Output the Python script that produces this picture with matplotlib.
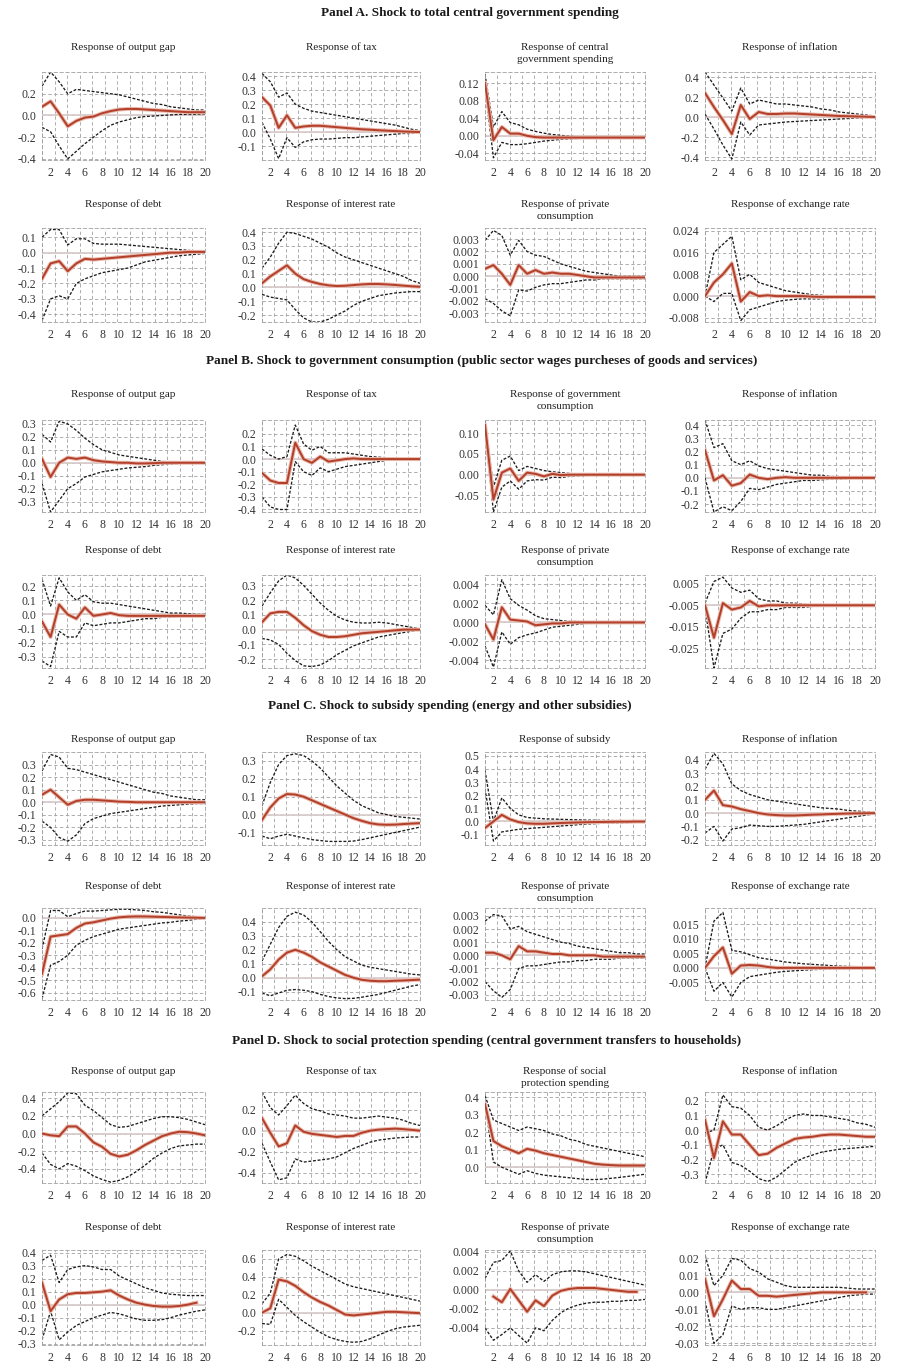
import numpy as np
import matplotlib
matplotlib.use("Agg")
import matplotlib.pyplot as plt

nan = np.nan

# ---------------- data (periods 1..20) ----------------
periods = list(range(1, 21))
xtick_labels = [2, 4, 6, 8, 10, 12, 14, 16, 18, 20]

# Panel A
a_outgap = [0.08, 0.13, 0.02, -0.10, -0.05, -0.02, -0.01, 0.02, 0.04, 0.055, 0.06, 0.06, 0.055, 0.05, 0.045, 0.04, 0.035, 0.03, 0.03, 0.03]
a_outgap_hi = [0.27, 0.40, 0.31, 0.20, 0.24, 0.23, 0.22, 0.21, 0.20, 0.19, 0.17, 0.15, 0.13, 0.11, 0.10, 0.08, 0.07, 0.06, 0.05, 0.05]
a_outgap_lo = [-0.11, -0.15, -0.28, -0.40, -0.33, -0.26, -0.20, -0.14, -0.09, -0.06, -0.04, -0.02, -0.01, -0.005, 0.0, 0.005, 0.01, 0.01, 0.01, 0.015]
a_tax = [0.25, 0.19, 0.03, 0.12, 0.03, 0.04, 0.045, 0.045, 0.04, 0.035, 0.03, 0.025, 0.02, 0.017, 0.013, 0.01, 0.007, 0.004, 0.002, 0.0]
a_tax_hi = [0.42, 0.36, 0.25, 0.28, 0.20, 0.17, 0.15, 0.14, 0.13, 0.12, 0.11, 0.10, 0.09, 0.08, 0.07, 0.06, 0.05, 0.035, 0.02, 0.01]
a_tax_lo = [0.07, -0.05, -0.19, -0.04, -0.11, -0.07, -0.055, -0.05, -0.05, -0.045, -0.04, -0.04, -0.035, -0.03, -0.025, -0.02, -0.015, -0.01, -0.01, -0.005]
a_spend = [0.12, -0.01, 0.02, 0.005, 0.005, 0.0, -0.003, -0.004, -0.004, -0.004, -0.004, -0.004, -0.004, -0.004, -0.004, -0.004, -0.004, -0.004, -0.004, -0.004]
a_spend_hi = [0.14, 0.02, 0.055, 0.03, 0.025, 0.015, 0.01, 0.006, 0.003, 0.001, -0.001, -0.002, -0.002, -0.003, -0.003, -0.003, -0.003, -0.003, -0.003, -0.003]
a_spend_lo = [0.11, -0.05, -0.015, -0.02, -0.02, -0.018, -0.015, -0.012, -0.01, -0.008, -0.007, -0.006, -0.005, -0.005, -0.005, -0.005, -0.005, -0.005, -0.005, -0.005]
a_infl = [0.24, 0.10, -0.03, -0.17, 0.12, -0.02, 0.05, 0.03, 0.03, 0.035, 0.035, 0.03, 0.025, 0.02, 0.015, 0.01, 0.008, 0.005, 0.003, 0.0]
a_infl_hi = [0.45, 0.32, 0.19, 0.06, 0.29, 0.13, 0.17, 0.15, 0.13, 0.13, 0.12, 0.11, 0.10, 0.08, 0.07, 0.05, 0.04, 0.03, 0.02, 0.01]
a_infl_lo = [0.03, -0.12, -0.28, -0.42, -0.05, -0.18, -0.08, -0.07, -0.06, -0.05, -0.045, -0.04, -0.035, -0.03, -0.025, -0.02, -0.015, -0.01, -0.005, 0.0]
a_debt = [-0.17, -0.07, -0.055, -0.12, -0.07, -0.04, -0.045, -0.04, -0.035, -0.03, -0.025, -0.02, -0.015, -0.01, -0.005, 0.0, 0.0, 0.005, 0.005, 0.005]
a_debt_hi = [0.10, 0.15, 0.15, 0.05, 0.09, 0.09, 0.06, 0.055, 0.055, 0.055, 0.05, 0.045, 0.04, 0.035, 0.03, 0.025, 0.02, 0.015, 0.01, 0.01]
a_debt_lo = [-0.44, -0.30, -0.28, -0.30, -0.20, -0.17, -0.15, -0.13, -0.12, -0.11, -0.10, -0.08, -0.06, -0.05, -0.04, -0.03, -0.02, -0.015, -0.01, -0.005]
a_rate = [0.03, 0.08, 0.12, 0.16, 0.10, 0.06, 0.04, 0.025, 0.015, 0.01, 0.012, 0.017, 0.022, 0.025, 0.025, 0.022, 0.018, 0.013, 0.008, 0.005]
a_rate_hi = [0.14, 0.22, 0.32, 0.40, 0.39, 0.37, 0.35, 0.32, 0.29, 0.25, 0.22, 0.20, 0.18, 0.16, 0.14, 0.12, 0.10, 0.08, 0.05, 0.03]
a_rate_lo = [-0.05, -0.07, -0.08, -0.09, -0.16, -0.22, -0.25, -0.25, -0.23, -0.20, -0.17, -0.13, -0.10, -0.08, -0.06, -0.05, -0.04, -0.035, -0.03, -0.03]
a_cons = [0.0006, 0.0009, 0.0002, -0.0007, 0.0009, 0.0002, 0.0005, 0.0002, 0.0003, 0.0002, 0.0002, 0.0001, 0.0, -0.0001, -0.0001, -0.0001, -0.0001, -0.0001, -0.0001, -0.0001]
a_cons_hi = [0.0029, 0.0037, 0.0033, 0.0017, 0.0029, 0.0020, 0.0017, 0.0016, 0.0013, 0.0010, 0.0008, 0.0006, 0.0004, 0.0003, 0.0002, 0.0001, 0.0, 0.0, 0.0, 0.0]
a_cons_lo = [-0.0018, -0.0022, -0.0028, -0.0032, -0.0011, -0.0012, -0.0009, -0.0007, -0.0006, -0.0006, -0.0005, -0.0004, -0.0003, -0.0003, -0.0002, -0.0002, -0.0002, -0.0002, -0.0002, -0.0002]
a_fx = [0.0, 0.005, 0.008, 0.012, -0.002, 0.0015, 0.0, 0.0003, 0.0, 0.0, 0.0, 0.0, -0.0002, -0.0003, -0.0003, -0.0003, -0.0003, -0.0003, -0.0003, -0.0003]
a_fx_hi = [0.0, 0.016, 0.019, 0.022, 0.006, 0.008, 0.005, 0.004, 0.003, 0.002, 0.0015, 0.001, 0.0005, 0.0003, 0.0, 0.0, 0.0, 0.0, 0.0, 0.0]
a_fx_lo = [0.0, -0.002, 0.001, 0.001, -0.009, -0.005, -0.004, -0.003, -0.002, -0.0015, -0.0012, -0.001, -0.001, -0.001, -0.0008, -0.0006, -0.0006, -0.0006, -0.0006, -0.0006]

# Panel B
b_outgap = [0.03, -0.11, 0.0, 0.04, 0.03, 0.04, 0.02, 0.01, 0.005, 0.0, 0.0, -0.005, -0.005, -0.003, 0.0, 0.0, 0.0, 0.0, 0.0, 0.0]
b_outgap_hi = [0.22, 0.16, 0.32, 0.30, 0.25, 0.19, 0.14, 0.10, 0.08, 0.06, 0.05, 0.04, 0.03, 0.02, 0.01, 0.005, 0.0, 0.0, 0.0, 0.0]
b_outgap_lo = [-0.16, -0.38, -0.29, -0.20, -0.16, -0.11, -0.09, -0.07, -0.06, -0.05, -0.04, -0.035, -0.03, -0.02, -0.015, -0.01, -0.005, 0.0, 0.0, 0.0]
b_tax = [-0.11, -0.17, -0.19, -0.19, 0.13, 0.0, -0.03, 0.02, -0.02, -0.01, 0.0, 0.005, 0.0, 0.0, 0.0, 0.0, 0.0, 0.0, 0.0, 0.0]
b_tax_hi = [0.08, 0.03, 0.0, 0.02, 0.27, 0.12, 0.07, 0.10, 0.05, 0.05, 0.05, 0.04, 0.03, 0.02, 0.015, 0.01, 0.005, 0.0, 0.0, 0.0]
b_tax_lo = [-0.30, -0.38, -0.40, -0.40, -0.02, -0.10, -0.13, -0.07, -0.10, -0.08, -0.06, -0.05, -0.04, -0.03, -0.02, -0.01, -0.005, 0.0, 0.0, 0.0]
b_gcons = [0.12, -0.06, 0.005, 0.015, -0.015, 0.005, 0.002, -0.004, 0.002, -0.001, 0.0, 0.0, 0.0, 0.0, 0.0, 0.0, 0.0, 0.0, 0.0, 0.0]
b_gcons_hi = [0.13, -0.03, 0.035, 0.045, 0.01, 0.02, 0.015, 0.01, 0.007, 0.005, 0.003, 0.002, 0.001, 0.0, 0.0, 0.0, 0.0, 0.0, 0.0, 0.0]
b_gcons_lo = [0.11, -0.09, -0.03, -0.015, -0.035, -0.015, -0.012, -0.013, -0.006, -0.007, -0.004, -0.003, -0.002, -0.001, 0.0, 0.0, 0.0, 0.0, 0.0, 0.0]
b_infl = [0.21, -0.02, 0.02, -0.06, -0.04, 0.025, 0.0, -0.01, 0.0, 0.005, 0.0, 0.0, 0.0, 0.0, 0.0, 0.0, 0.0, 0.0, 0.0, 0.0]
b_infl_hi = [0.44, 0.23, 0.26, 0.13, 0.10, 0.13, 0.09, 0.07, 0.06, 0.05, 0.04, 0.03, 0.02, 0.02, 0.01, 0.01, 0.005, 0.0, 0.0, 0.0]
b_infl_lo = [0.0, -0.26, -0.22, -0.25, -0.18, -0.08, -0.09, -0.07, -0.05, -0.04, -0.03, -0.02, -0.02, -0.015, -0.01, -0.01, -0.005, 0.0, 0.0, 0.0]
b_debt = [-0.05, -0.16, 0.07, 0.0, -0.03, 0.05, -0.01, 0.0, 0.01, -0.005, -0.01, -0.01, -0.01, -0.01, -0.01, -0.01, -0.01, -0.01, -0.01, -0.01]
b_debt_hi = [0.25, 0.06, 0.26, 0.16, 0.10, 0.14, 0.09, 0.08, 0.08, 0.07, 0.06, 0.05, 0.04, 0.03, 0.02, 0.01, 0.01, 0.005, 0.0, 0.0]
b_debt_lo = [-0.33, -0.37, -0.12, -0.16, -0.16, -0.06, -0.08, -0.07, -0.06, -0.06, -0.05, -0.04, -0.03, -0.03, -0.02, -0.02, -0.015, -0.01, -0.01, -0.01]
b_rate = [0.05, 0.11, 0.12, 0.12, 0.08, 0.03, -0.01, -0.035, -0.05, -0.05, -0.045, -0.035, -0.025, -0.02, -0.015, -0.01, -0.005, 0.0, 0.0, 0.0]
b_rate_hi = [0.16, 0.25, 0.33, 0.37, 0.35, 0.30, 0.24, 0.18, 0.13, 0.09, 0.065, 0.05, 0.045, 0.045, 0.05, 0.045, 0.035, 0.025, 0.015, 0.005]
b_rate_lo = [-0.06, -0.07, -0.10, -0.16, -0.21, -0.245, -0.25, -0.24, -0.21, -0.17, -0.14, -0.11, -0.09, -0.07, -0.05, -0.04, -0.03, -0.02, -0.01, 0.0]
b_cons = [-0.0002, -0.0018, 0.0016, 0.0003, 0.0002, 0.0001, -0.0003, -0.0002, -0.0001, -0.0001, 0.0, 0.0, 0.0, 0.0, 0.0, 0.0, 0.0, 0.0, 0.0, 0.0]
b_cons_hi = [0.0018, 0.0008, 0.0045, 0.0025, 0.0018, 0.0013, 0.0007, 0.0004, 0.0003, 0.0002, 0.0001, 0.0001, 0.0, 0.0, 0.0, 0.0, 0.0, 0.0, 0.0, 0.0]
b_cons_lo = [-0.0025, -0.0047, -0.0010, -0.0023, -0.0016, -0.0013, -0.0011, -0.0008, -0.0005, -0.0004, -0.0003, -0.0002, -0.0001, -0.0001, 0.0, 0.0, 0.0, 0.0, 0.0, 0.0]
b_fx = [-0.005, -0.020, -0.004, -0.007, -0.006, -0.003, -0.0055, -0.005, -0.005, -0.005, -0.005, -0.005, -0.005, -0.005, -0.005, -0.005, -0.005, -0.005, -0.005, -0.005]
b_fx_hi = [-0.004, 0.006, 0.008, 0.003, 0.001, 0.002, -0.002, -0.003, -0.003, -0.004, -0.004, -0.0045, -0.005, -0.005, -0.005, -0.005, -0.005, -0.005, -0.005, -0.005]
b_fx_lo = [-0.006, -0.034, -0.018, -0.016, -0.011, -0.008, -0.008, -0.007, -0.007, -0.006, -0.006, -0.006, -0.0055, -0.005, -0.005, -0.005, -0.005, -0.005, -0.005, -0.005]

# Panel C
c_outgap = [0.06, 0.10, 0.04, -0.02, 0.01, 0.02, 0.02, 0.015, 0.01, 0.005, 0.003, 0.0, 0.0, 0.0, 0.0, 0.0, 0.0, 0.0, 0.0, 0.0]
c_outgap_hi = [0.25, 0.38, 0.36, 0.27, 0.26, 0.24, 0.22, 0.20, 0.18, 0.16, 0.14, 0.12, 0.10, 0.08, 0.07, 0.05, 0.04, 0.03, 0.02, 0.02]
c_outgap_lo = [-0.15, -0.20, -0.28, -0.31, -0.26, -0.17, -0.13, -0.11, -0.09, -0.08, -0.07, -0.06, -0.05, -0.04, -0.03, -0.025, -0.02, -0.015, -0.01, -0.01]
c_tax = [-0.03, 0.04, 0.09, 0.115, 0.112, 0.10, 0.08, 0.06, 0.04, 0.02, 0.0, -0.02, -0.035, -0.048, -0.055, -0.057, -0.056, -0.053, -0.05, -0.048]
c_tax_hi = [0.05, 0.18, 0.28, 0.33, 0.34, 0.33, 0.30, 0.26, 0.21, 0.16, 0.12, 0.08, 0.05, 0.03, 0.01, 0.0, -0.01, -0.015, -0.02, -0.025]
c_tax_lo = [-0.12, -0.135, -0.12, -0.11, -0.12, -0.13, -0.14, -0.145, -0.15, -0.15, -0.15, -0.148, -0.14, -0.13, -0.12, -0.11, -0.10, -0.09, -0.08, -0.07]
c_subs = [-0.05, 0.0, 0.05, 0.015, -0.005, -0.015, -0.018, -0.018, -0.015, -0.012, -0.01, -0.008, -0.006, -0.005, -0.004, -0.003, -0.002, -0.002, -0.001, -0.001]
c_subs_hi = [0.39, 0.0, 0.18, 0.10, 0.05, 0.03, 0.025, 0.02, 0.018, 0.016, 0.014, 0.012, 0.01, 0.009, 0.008, 0.007, 0.006, 0.005, 0.005, 0.005]
c_subs_lo = [0.25, -0.15, -0.08, -0.07, -0.06, -0.055, -0.05, -0.045, -0.04, -0.035, -0.03, -0.025, -0.02, -0.017, -0.014, -0.012, -0.01, -0.008, -0.006, -0.005]
c_infl = [0.10, 0.17, 0.06, 0.05, 0.03, 0.015, 0.0, -0.01, -0.015, -0.018, -0.018, -0.015, -0.012, -0.01, -0.007, -0.005, -0.003, -0.002, -0.001, 0.0]
c_infl_hi = [0.33, 0.45, 0.37, 0.22, 0.17, 0.14, 0.12, 0.10, 0.09, 0.08, 0.07, 0.06, 0.05, 0.04, 0.035, 0.03, 0.02, 0.015, 0.01, 0.005]
c_infl_lo = [-0.15, -0.10, -0.21, -0.12, -0.11, -0.09, -0.095, -0.10, -0.10, -0.095, -0.09, -0.085, -0.075, -0.065, -0.055, -0.045, -0.035, -0.025, -0.015, -0.005]
c_debt = [-0.45, -0.15, -0.14, -0.13, -0.08, -0.045, -0.035, -0.02, -0.005, 0.005, 0.01, 0.012, 0.012, 0.01, 0.008, 0.006, 0.004, 0.003, 0.002, 0.0]
c_debt_hi = [-0.25, 0.06, 0.06, 0.01, 0.035, 0.055, 0.055, 0.06, 0.065, 0.07, 0.07, 0.065, 0.06, 0.05, 0.045, 0.035, 0.025, 0.015, 0.01, 0.005]
c_debt_lo = [-0.65, -0.38, -0.35, -0.30, -0.22, -0.18, -0.15, -0.13, -0.11, -0.09, -0.08, -0.07, -0.06, -0.05, -0.04, -0.035, -0.025, -0.02, -0.01, -0.005]
c_rate = [0.01, 0.06, 0.13, 0.18, 0.20, 0.18, 0.15, 0.11, 0.08, 0.05, 0.02, 0.0, -0.015, -0.022, -0.025, -0.025, -0.022, -0.02, -0.017, -0.014]
c_rate_hi = [0.12, 0.24, 0.36, 0.44, 0.47, 0.45, 0.40, 0.33, 0.26, 0.20, 0.15, 0.12, 0.09, 0.075, 0.065, 0.055, 0.045, 0.035, 0.025, 0.02]
c_rate_lo = [-0.11, -0.13, -0.11, -0.09, -0.085, -0.09, -0.10, -0.12, -0.135, -0.145, -0.15, -0.148, -0.14, -0.13, -0.12, -0.105, -0.09, -0.075, -0.06, -0.05]
c_cons = [0.0002, 0.0002, 0.0, -0.0003, 0.0007, 0.0003, 0.0003, 0.0002, 0.0001, 0.0001, 0.0, 0.0, 0.0, 0.0, -0.0001, -0.0001, -0.0001, -0.0001, -0.0001, -0.0001]
c_cons_hi = [0.0026, 0.0031, 0.0030, 0.0020, 0.0022, 0.0018, 0.0016, 0.0014, 0.0012, 0.0010, 0.0009, 0.0007, 0.0006, 0.0005, 0.0004, 0.0003, 0.0002, 0.0002, 0.0001, 0.0001]
c_cons_lo = [-0.0020, -0.0027, -0.0032, -0.0026, -0.0010, -0.0008, -0.0008, -0.0007, -0.0006, -0.0005, -0.0005, -0.0004, -0.0004, -0.0003, -0.0003, -0.0003, -0.0002, -0.0002, -0.0002, -0.0002]
c_fx = [0.0, 0.004, 0.007, -0.002, 0.0008, 0.001, 0.0008, 0.0003, 0.0, 0.0, 0.0, 0.0, 0.0, 0.0, 0.0, 0.0, 0.0, 0.0, 0.0, 0.0]
c_fx_hi = [0.0, 0.016, 0.019, 0.006, 0.0055, 0.0045, 0.0035, 0.003, 0.0025, 0.002, 0.0017, 0.0014, 0.0012, 0.001, 0.0008, 0.0006, 0.0005, 0.0004, 0.0003, 0.0002]
c_fx_lo = [0.0, -0.008, -0.005, -0.010, -0.005, -0.003, -0.0025, -0.002, -0.0015, -0.0012, -0.001, -0.0008, -0.0006, -0.0005, -0.0004, -0.0003, -0.0003, -0.0002, -0.0002, -0.0002]

# Panel D
d_outgap = [0.0, -0.02, -0.03, 0.08, 0.08, 0.0, -0.10, -0.15, -0.23, -0.26, -0.24, -0.19, -0.13, -0.08, -0.03, 0.0, 0.02, 0.015, 0.0, -0.02]
d_outgap_hi = [0.20, 0.28, 0.36, 0.46, 0.45, 0.32, 0.26, 0.18, 0.10, 0.07, 0.08, 0.11, 0.14, 0.17, 0.19, 0.19, 0.18, 0.16, 0.13, 0.10]
d_outgap_lo = [-0.22, -0.35, -0.40, -0.34, -0.37, -0.42, -0.48, -0.52, -0.55, -0.53, -0.49, -0.43, -0.36, -0.28, -0.22, -0.17, -0.14, -0.13, -0.12, -0.12]
d_tax = [0.12, -0.02, -0.15, -0.12, 0.05, -0.01, -0.03, -0.04, -0.05, -0.06, -0.05, -0.05, -0.02, 0.0, 0.01, 0.015, 0.02, 0.015, 0.008, 0.0]
d_tax_hi = [0.37, 0.22, 0.15, 0.24, 0.34, 0.26, 0.21, 0.19, 0.16, 0.15, 0.14, 0.12, 0.12, 0.13, 0.14, 0.13, 0.12, 0.10, 0.07, 0.05]
d_tax_lo = [-0.12, -0.30, -0.47, -0.45, -0.27, -0.30, -0.29, -0.28, -0.27, -0.25, -0.21, -0.17, -0.14, -0.11, -0.09, -0.08, -0.07, -0.065, -0.06, -0.06]
d_social = [0.36, 0.15, 0.12, 0.10, 0.08, 0.105, 0.095, 0.08, 0.07, 0.06, 0.05, 0.04, 0.03, 0.02, 0.015, 0.012, 0.01, 0.01, 0.01, 0.01]
d_social_hi = [0.41, 0.27, 0.25, 0.23, 0.21, 0.23, 0.22, 0.21, 0.19, 0.18, 0.16, 0.15, 0.13, 0.12, 0.11, 0.10, 0.09, 0.08, 0.07, 0.06]
d_social_lo = [0.37, 0.03, 0.0, -0.02, -0.04, -0.02, -0.035, -0.045, -0.05, -0.055, -0.06, -0.065, -0.07, -0.07, -0.068, -0.063, -0.058, -0.052, -0.046, -0.04]
d_infl = [0.07, -0.19, 0.06, -0.03, -0.03, -0.10, -0.17, -0.16, -0.12, -0.09, -0.06, -0.05, -0.045, -0.035, -0.03, -0.03, -0.035, -0.04, -0.045, -0.045]
d_infl_hi = [-0.02, 0.0, 0.24, 0.16, 0.15, 0.10, 0.02, 0.0, 0.03, 0.07, 0.10, 0.11, 0.10, 0.10, 0.09, 0.08, 0.07, 0.05, 0.04, 0.02]
d_infl_lo = [-0.36, -0.13, -0.10, -0.22, -0.24, -0.28, -0.33, -0.35, -0.32, -0.27, -0.22, -0.19, -0.17, -0.15, -0.14, -0.13, -0.125, -0.12, -0.115, -0.11]
d_debt = [0.17, -0.05, 0.04, 0.08, 0.09, 0.09, 0.095, 0.10, 0.11, 0.07, 0.04, 0.015, 0.0, -0.01, -0.015, -0.015, -0.01, 0.0, 0.015, nan]
d_debt_hi = [0.34, 0.38, 0.17, 0.27, 0.29, 0.30, 0.29, 0.27, 0.27, 0.22, 0.19, 0.16, 0.13, 0.11, 0.09, 0.08, 0.075, 0.07, 0.07, 0.07]
d_debt_lo = [-0.27, -0.05, -0.27, -0.21, -0.16, -0.13, -0.10, -0.08, -0.06, -0.07, -0.09, -0.11, -0.12, -0.12, -0.115, -0.10, -0.08, -0.065, -0.05, -0.04]
d_rate = [0.0, 0.05, 0.37, 0.35, 0.30, 0.23, 0.17, 0.12, 0.08, 0.03, -0.02, -0.03, -0.02, -0.01, 0.0, 0.01, 0.01, 0.005, 0.0, -0.005]
d_rate_hi = [0.10, 0.22, 0.60, 0.65, 0.63, 0.58, 0.52, 0.47, 0.42, 0.37, 0.32, 0.29, 0.27, 0.25, 0.23, 0.21, 0.19, 0.17, 0.15, 0.13]
d_rate_lo = [-0.12, -0.13, 0.15, 0.06, -0.03, -0.10, -0.16, -0.22, -0.27, -0.30, -0.32, -0.33, -0.32, -0.29, -0.25, -0.21, -0.18, -0.16, -0.15, -0.14]
d_cons = [nan, -0.0007, -0.0013, 0.0001, -0.0011, -0.0023, -0.0011, -0.0017, -0.0006, -0.0001, 0.0001, 0.0002, 0.0002, 0.0002, 0.0001, 0.0, -0.0001, -0.0002, -0.0002, nan]
d_cons_hi = [0.0012, 0.0029, 0.0031, 0.0041, 0.0020, 0.0008, 0.0016, 0.0009, 0.0016, 0.0019, 0.0020, 0.0020, 0.0019, 0.0017, 0.0015, 0.0013, 0.0011, 0.0009, 0.0007, 0.0005]
d_cons_lo = [-0.0040, -0.0053, -0.0047, -0.0040, -0.0048, -0.0056, -0.0040, -0.0043, -0.0032, -0.0024, -0.0019, -0.0016, -0.0014, -0.0013, -0.0013, -0.0012, -0.0012, -0.0011, -0.0011, -0.0010]
d_fx = [0.008, -0.014, -0.004, 0.007, 0.002, 0.002, -0.002, -0.002, -0.0025, -0.002, -0.0015, -0.001, -0.0005, 0.0, 0.0, 0.0, 0.0, 0.0, 0.0, nan]
d_fx_hi = [0.022, 0.004, 0.010, 0.020, 0.019, 0.014, 0.012, 0.008, 0.006, 0.004, 0.003, 0.003, 0.003, 0.003, 0.003, 0.003, 0.0025, 0.002, 0.002, 0.002]
d_fx_lo = [-0.005, -0.030, -0.025, -0.008, -0.010, -0.009, -0.009, -0.010, -0.010, -0.009, -0.008, -0.007, -0.006, -0.005, -0.004, -0.003, -0.002, -0.0015, -0.001, -0.001]

# ---------------- texts ----------------
panel_titles = [
    "Panel A. Shock to total central government spending",
    "Panel B. Shock to government consumption (public sector wages purcheses of goods and services)",
    "Panel C. Shock to subsidy spending (energy and other subsidies)",
    "Panel D. Shock to social protection spending (central government transfers to households)",
]
row2_titles = ["Response of debt", "Response of interest rate",
               "Response of private\nconsumption", "Response of exchange rate"]

# ---------------- subplot specs ----------------
# (title, response, upper, lower, ylim, yticks, decimals, base)
panels = [
    [
        ("Response of output gap", a_outgap, a_outgap_hi, a_outgap_lo, (-0.41, 0.40), [-0.4, -0.2, 0.0, 0.2], 1, 0.0),
        ("Response of tax", a_tax, a_tax_hi, a_tax_lo, (-0.2, 0.43), [-0.1, 0.0, 0.1, 0.2, 0.3, 0.4], 1, 0.0),
        ("Response of central\ngovernment spending", a_spend, a_spend_hi, a_spend_lo, (-0.055, 0.145), [-0.04, 0.0, 0.04, 0.08, 0.12], 2, 0.0),
        ("Response of inflation", a_infl, a_infl_hi, a_infl_lo, (-0.43, 0.45), [-0.4, -0.2, 0.0, 0.2, 0.4], 1, 0.0),
        (row2_titles[0], a_debt, a_debt_hi, a_debt_lo, (-0.45, 0.16), [-0.4, -0.3, -0.2, -0.1, 0.0, 0.1], 1, 0.0),
        (row2_titles[1], a_rate, a_rate_hi, a_rate_lo, (-0.25, 0.43), [-0.2, -0.1, 0.0, 0.1, 0.2, 0.3, 0.4], 1, 0.0),
        (row2_titles[2], a_cons, a_cons_hi, a_cons_lo, (-0.0037, 0.0039), [-0.003, -0.002, -0.001, 0.0, 0.001, 0.002, 0.003], 3, 0.0),
        (row2_titles[3], a_fx, a_fx_hi, a_fx_lo, (-0.0095, 0.025), [-0.008, 0.0, 0.008, 0.016, 0.024], 3, 0.0),
    ],
    [
        ("Response of output gap", b_outgap, b_outgap_hi, b_outgap_lo, (-0.38, 0.33), [-0.3, -0.2, -0.1, 0.0, 0.1, 0.2, 0.3], 1, 0.0),
        ("Response of tax", b_tax, b_tax_hi, b_tax_lo, (-0.42, 0.31), [-0.4, -0.3, -0.2, -0.1, 0.0, 0.1, 0.2], 1, 0.0),
        ("Response of government\nconsumption", b_gcons, b_gcons_hi, b_gcons_lo, (-0.09, 0.132), [-0.05, 0.0, 0.05, 0.10], 2, 0.0),
        ("Response of inflation", b_infl, b_infl_hi, b_infl_lo, (-0.26, 0.44), [-0.2, -0.1, 0.0, 0.1, 0.2, 0.3, 0.4], 1, 0.0),
        (row2_titles[0], b_debt, b_debt_hi, b_debt_lo, (-0.38, 0.28), [-0.3, -0.2, -0.1, 0.0, 0.1, 0.2], 1, 0.0),
        (row2_titles[1], b_rate, b_rate_hi, b_rate_lo, (-0.26, 0.37), [-0.2, -0.1, 0.0, 0.1, 0.2, 0.3], 1, 0.0),
        (row2_titles[2], b_cons, b_cons_hi, b_cons_lo, (-0.0048, 0.005), [-0.004, -0.002, 0.0, 0.002, 0.004], 3, 0.0),
        (row2_titles[3], b_fx, b_fx_hi, b_fx_lo, (-0.034, 0.009), [-0.025, -0.015, -0.005, 0.005], 3, -0.005),
    ],
    [
        ("Response of output gap", c_outgap, c_outgap_hi, c_outgap_lo, (-0.34, 0.40), [-0.3, -0.2, -0.1, 0.0, 0.1, 0.2, 0.3], 1, 0.0),
        ("Response of tax", c_tax, c_tax_hi, c_tax_lo, (-0.17, 0.35), [-0.1, 0.0, 0.1, 0.2, 0.3], 1, 0.0),
        ("Response of subsidy", c_subs, c_subs_hi, c_subs_lo, (-0.18, 0.53), [-0.1, 0.0, 0.1, 0.2, 0.3, 0.4, 0.5], 1, 0.0),
        ("Response of inflation", c_infl, c_infl_hi, c_infl_lo, (-0.24, 0.46), [-0.2, -0.1, 0.0, 0.1, 0.2, 0.3, 0.4], 1, 0.0),
        (row2_titles[0], c_debt, c_debt_hi, c_debt_lo, (-0.66, 0.08), [-0.6, -0.5, -0.4, -0.3, -0.2, -0.1, 0.0], 1, 0.0),
        (row2_titles[1], c_rate, c_rate_hi, c_rate_lo, (-0.16, 0.50), [-0.1, 0.0, 0.1, 0.2, 0.3, 0.4], 1, 0.0),
        (row2_titles[2], c_cons, c_cons_hi, c_cons_lo, (-0.0034, 0.0036), [-0.003, -0.002, -0.001, 0.0, 0.001, 0.002, 0.003], 3, 0.0),
        (row2_titles[3], c_fx, c_fx_hi, c_fx_lo, (-0.011, 0.0205), [-0.005, 0.0, 0.005, 0.010, 0.015], 3, 0.0),
    ],
    [
        ("Response of output gap", d_outgap, d_outgap_hi, d_outgap_lo, (-0.56, 0.47), [-0.4, -0.2, 0.0, 0.2, 0.4], 1, 0.0),
        ("Response of tax", d_tax, d_tax_hi, d_tax_lo, (-0.5, 0.37), [-0.4, -0.2, 0.0, 0.2], 1, 0.0),
        ("Response of social\nprotection spending", d_social, d_social_hi, d_social_lo, (-0.09, 0.43), [0.0, 0.1, 0.2, 0.3, 0.4], 1, 0.0),
        ("Response of inflation", d_infl, d_infl_hi, d_infl_lo, (-0.36, 0.26), [-0.3, -0.2, -0.1, 0.0, 0.1, 0.2], 1, 0.0),
        (row2_titles[0], d_debt, d_debt_hi, d_debt_lo, (-0.31, 0.42), [-0.3, -0.2, -0.1, 0.0, 0.1, 0.2, 0.3, 0.4], 1, 0.0),
        (row2_titles[1], d_rate, d_rate_hi, d_rate_lo, (-0.36, 0.70), [-0.2, 0.0, 0.2, 0.4, 0.6], 1, 0.0),
        (row2_titles[2], d_cons, d_cons_hi, d_cons_lo, (-0.0058, 0.0042), [-0.004, -0.002, 0.0, 0.002, 0.004], 3, 0.0),
        (row2_titles[3], d_fx, d_fx_hi, d_fx_lo, (-0.031, 0.025), [-0.03, -0.02, -0.01, 0.0, 0.01, 0.02], 2, 0.0),
    ],
]

# ---------------- layout (pixels) ----------------
W, H = 900, 1368
col_left = [42, 262, 485, 705]
col_w = [163, 158, 160, 170]
row_top = [72, 228, 420, 575, 752, 908, 1092, 1250]
row_bot = [160, 322, 512, 668, 845, 1000, 1183, 1345]
title_top = [42, 199, 389, 545, 734, 881, 1066, 1222]
panel_title_xy = [(470, 13), (482, 361), (450, 706), (487, 1041)]

plt.rcParams["font.family"] = ["Liberation Serif", "DejaVu Serif"]

RED = "#b3402b"
HALO = "#ebbdb1"
GRID = "#a0a0a0"
DASH = (0, (4, 3))

fig = plt.figure(figsize=(W / 100, H / 100), dpi=100)
fig.patch.set_facecolor("white")

x = np.array(periods, dtype=float)


def draw(ax, spec):
    title, resp, hi, lo, ylim, yticks, dec, base = spec
    resp = np.array(resp, dtype=float)
    hi = np.array(hi, dtype=float)
    lo = np.array(lo, dtype=float)
    ax.set_xlim(1, 20)
    ax.set_ylim(*ylim)
    ax.axhline(base, color="#d9cccc", lw=1.3, zorder=1)
    ax.plot(x, hi, color="#1c1c1c", lw=0.95, dashes=(2.2, 1.3), zorder=2)
    ax.plot(x, lo, color="#1c1c1c", lw=0.95, dashes=(2.2, 1.3), zorder=2)
    ax.plot(x, resp, color=HALO, lw=2.9, solid_joinstyle="round", zorder=3)
    ax.plot(x, resp, color=RED, lw=1.45, solid_joinstyle="round", zorder=4)
    ax.set_yticks(yticks)
    ax.set_yticklabels([f"{v:.{dec}f}" for v in yticks])
    ax.set_xticks(xtick_labels)
    ax.set_xticklabels([str(v) for v in xtick_labels])
    ax.set_xticks(np.linspace(1, 20, 14), minor=True)
    ax.grid(axis="y", which="major", color=GRID, lw=0.6, linestyle=DASH)
    ax.grid(axis="x", which="minor", color=GRID, lw=0.6, linestyle=DASH)
    ax.tick_params(which="both", length=0, labelsize=8.5, colors="#333333")
    ax.tick_params(axis="y", pad=4)
    ax.tick_params(axis="x", pad=5)
    for s in ax.spines.values():
        s.set_linestyle(DASH)
        s.set_color(GRID)
        s.set_linewidth(0.6)
    ax.set_axisbelow(True)


for p, specs in enumerate(panels):
    px, py = panel_title_xy[p]
    fig.text(px / W, 1 - py / H, panel_titles[p], ha="center", va="center",
             fontsize=9.5, fontweight="bold", color="#1a1a1a")
    for k, spec in enumerate(specs):
        r = 2 * p + k // 4
        c = k % 4
        left = col_left[c] / W
        bottom = 1 - row_bot[r] / H
        width = col_w[c] / W
        height = (row_bot[r] - row_top[r]) / H
        ax = fig.add_axes([left, bottom, width, height])
        draw(ax, spec)
        cx = (col_left[c] + col_w[c] / 2) / W
        fig.text(cx, 1 - title_top[r] / H, spec[0], ha="center", va="top",
                 fontsize=8, color="#222222", linespacing=1.45)

fig.savefig("out.png", dpi=100, facecolor="white")
